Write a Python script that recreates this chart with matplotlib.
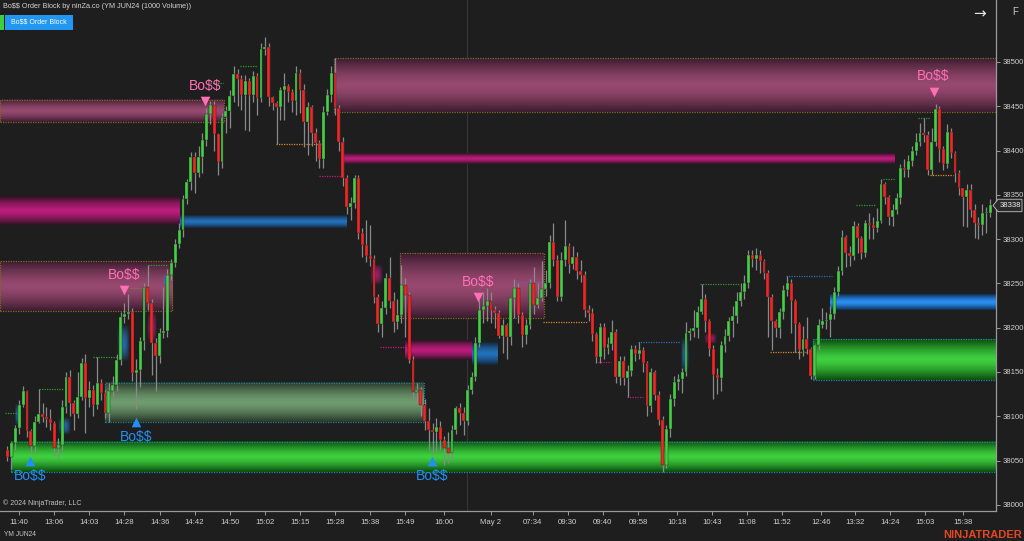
import numpy as np
import matplotlib
matplotlib.use("Agg")
import matplotlib.pyplot as plt
from matplotlib.colors import to_rgb
from matplotlib.patches import Polygon, Rectangle

# ---------------- data ----------------
FIRST_OPEN = 38062
CLOSE = [
    38054, 38070, 38087, 38113, 38128, 38083, 38066, 38094, 38103, 38099,
    38097, 38092, 38064, 38068, 38110, 38144, 38115, 38102, 38122, 38160,
    38121, 38130, 38113, 38137, 38126, 38104, 38129, 38135, 38164, 38212,
    38215, 38218, 38149, 38152, 38185, 38246, 38228, 38183, 38168, 38194,
    38196, 38260, 38273, 38295, 38310, 38345, 38364, 38393, 38375, 38393,
    38412, 38441, 38451, 38419, 38387, 38438, 38445, 38462, 38487, 38481,
    38463, 38479, 38463, 38484, 38459, 38515, 38517, 38460, 38454, 38449,
    38468, 38473, 38466, 38456, 38488, 38468, 38432, 38449, 38420, 38408,
    38391, 38444, 38463, 38488, 38448, 38410, 38369, 38336, 38341, 38369,
    38307, 38293, 38281, 38278, 38235, 38204, 38222, 38256, 38230, 38206,
    38214, 38248, 38237, 38163, 38127, 38130, 38113, 38095, 38085, 38082,
    38088, 38073, 38064, 38059, 38085, 38109, 38104, 38095, 38130, 38144,
    38183, 38220, 38224, 38230, 38220, 38217, 38191, 38203, 38190, 38233,
    38245, 38214, 38192, 38203, 38250, 38226, 38233, 38244, 38250, 38297,
    38276, 38235, 38276, 38292, 38272, 38280, 38264, 38260, 38220, 38217,
    38193, 38167, 38201, 38177, 38182, 38195, 38144, 38162, 38143, 38151,
    38176, 38170, 38175, 38160, 38112, 38150, 38124, 38096, 38045, 38086,
    38120, 38139, 38142, 38150, 38194, 38196, 38200, 38218, 38232, 38207,
    38176, 38147, 38143, 38180, 38191, 38207, 38213, 38230, 38240, 38250,
    38282, 38278, 38282, 38275, 38262, 38235, 38207, 38200, 38218, 38242,
    38251, 38230, 38204, 38175, 38187, 38176, 38145, 38180, 38203, 38207,
    38209, 38215, 38240, 38264, 38302, 38284, 38281, 38315, 38301, 38284,
    38318, 38316, 38313, 38321, 38362, 38347, 38325, 38333, 38346, 38380,
    38378, 38388, 38399, 38410, 38420, 38418, 38378, 38410, 38447, 38402,
    38385, 38421, 38397, 38375, 38358, 38347, 38356, 38333, 38318, 38316,
    38329, 38330, 38338,
]
HIGH = [
    38066, 38072, 38090, 38118, 38134, 38130, 38086, 38100, 38131, 38115,
    38110, 38108, 38095, 38075, 38118, 38150, 38152, 38118, 38150, 38166,
    38170, 38140, 38135, 38167, 38142, 38130, 38138, 38145, 38170, 38218,
    38228, 38238, 38222, 38165, 38190, 38250, 38271, 38232, 38188, 38200,
    38246, 38266, 38278, 38300, 38318, 38350, 38368, 38398, 38398, 38405,
    38420, 38448, 38456, 38456, 38420, 38442, 38450, 38468, 38495, 38492,
    38485, 38485, 38482, 38490, 38488, 38522, 38528, 38522, 38462, 38456,
    38472, 38488, 38475, 38470, 38495, 38492, 38475, 38455, 38452, 38425,
    38412, 38450, 38470, 38495, 38505, 38452, 38415, 38372, 38348, 38372,
    38372, 38312, 38322, 38316, 38282, 38238, 38230, 38262, 38280, 38240,
    38232, 38271, 38256, 38240, 38168, 38138, 38133, 38120, 38109, 38092,
    38098, 38095, 38078, 38082, 38090, 38112, 38115, 38110, 38135, 38150,
    38190, 38231, 38240, 38245, 38240, 38225, 38220, 38210, 38205, 38235,
    38255, 38250, 38218, 38210, 38255, 38269, 38250, 38275, 38265, 38305,
    38318, 38282, 38286, 38322, 38296, 38292, 38286, 38276, 38264, 38226,
    38222, 38195, 38205, 38205, 38190, 38209, 38198, 38168, 38168, 38158,
    38180, 38180, 38184, 38178, 38162, 38155, 38152, 38128, 38100, 38090,
    38125, 38145, 38148, 38155, 38206, 38200, 38220, 38225, 38249, 38238,
    38210, 38180, 38155, 38185, 38198, 38212, 38225, 38240, 38250, 38260,
    38288, 38288, 38290, 38288, 38278, 38265, 38238, 38210, 38222, 38248,
    38258, 38255, 38232, 38206, 38202, 38212, 38178, 38182, 38210, 38222,
    38218, 38225, 38246, 38270, 38310, 38305, 38292, 38320, 38318, 38303,
    38322, 38330, 38325, 38335, 38368, 38364, 38350, 38340, 38352, 38385,
    38390, 38395, 38405, 38420, 38431, 38437, 38422, 38425, 38453, 38450,
    38405, 38430, 38425, 38400, 38378, 38358, 38362, 38362, 38340, 38325,
    38340, 38336, 38345,
]
LOW = [
    38050, 38040, 38062, 38080, 38110, 38076, 38060, 38060, 38092, 38094,
    38088, 38085, 38055, 38053, 38062, 38104, 38100, 38085, 38098, 38118,
    38081, 38110, 38100, 38108, 38118, 38098, 38094, 38122, 38128, 38158,
    38205, 38210, 38140, 38108, 38133, 38175, 38220, 38147, 38128, 38160,
    38188, 38190, 38254, 38268, 38290, 38302, 38340, 38355, 38352, 38370,
    38375, 38405, 38430, 38400, 38372, 38380, 38420, 38426, 38455, 38450,
    38446, 38423, 38422, 38455, 38440, 38455, 38508, 38450, 38446, 38407,
    38434, 38435, 38455, 38444, 38440, 38442, 38404, 38395, 38405, 38388,
    38380, 38380, 38440, 38455, 38440, 38400, 38360, 38328, 38322, 38335,
    38300, 38280, 38274, 38270, 38228, 38195, 38190, 38215, 38222, 38195,
    38198, 38205, 38190, 38160, 38120, 38115, 38100, 38085, 38062, 38056,
    38060, 38062, 38045, 38047, 38051, 38080, 38090, 38079, 38090, 38125,
    38140, 38178, 38205, 38207, 38205, 38200, 38188, 38171, 38165, 38180,
    38211, 38205, 38178, 38182, 38198, 38215, 38222, 38230, 38236, 38245,
    38270, 38230, 38230, 38270, 38262, 38266, 38255, 38252, 38212, 38208,
    38185, 38160, 38160, 38165, 38170, 38175, 38138, 38135, 38135, 38122,
    38145, 38162, 38165, 38150, 38100, 38105, 38118, 38090, 38037, 38042,
    38077, 38112, 38130, 38126, 38145, 38186, 38190, 38188, 38215, 38195,
    38168, 38119, 38125, 38128, 38172, 38185, 38190, 38205, 38225, 38232,
    38245, 38268, 38265, 38262, 38255, 38190, 38175, 38190, 38188, 38210,
    38236, 38194, 38173, 38165, 38168, 38170, 38142, 38142, 38175, 38200,
    38198, 38190, 38210, 38236, 38260, 38269, 38270, 38276, 38284, 38278,
    38280, 38300, 38300, 38308, 38318, 38340, 38316, 38315, 38328, 38340,
    38370, 38370, 38382, 38395, 38405, 38410, 38372, 38372, 38405, 38387,
    38378, 38380, 38392, 38365, 38350, 38315, 38314, 38325, 38301, 38300,
    38305, 38307, 38325,
]

TICK_POS = [3, 12, 21, 30, 39, 48, 57, 66, 75, 84, 93, 102, 112, 124,
            134.7, 143.7, 152.7, 161.7, 171.6, 180.6, 189.6, 198.5, 208.6,
            217.4, 226.3, 235.3, 245.1]
TICK_LBL = ["11:40", "13:06", "14:03", "14:28", "14:36", "14:42", "14:50",
            "15:02", "15:15", "15:28", "15:38", "15:49", "16:00", "May 2",
            "07:34", "09:30", "09:40", "09:58", "10:18", "10:43", "11:08",
            "11:52", "12:46", "13:32", "14:24", "15:03", "15:38"]
PRICE_TICKS = [38000, 38050, 38100, 38150, 38200, 38250, 38300, 38350, 38400, 38450, 38500]

# order blocks: start bar, end bar, low, high, kind
OB_START = [-2, -2, 44.2, -2, 25.0, 0.9, 83.7, 85.7, 100.6, 101.9, 119.1, 210.9, 206.5]
OB_END = [55.5, 44.2, 86.8, 42.2, 106.8, 254, 254, 227.5, 137.5, 119.1, 125.7, 254, 254]
OB_LOW = [38432, 38316, 38313, 38219, 38093, 38037, 38444, 38385, 38211, 38164, 38158, 38220, 38141]
OB_HIGH = [38457, 38348, 38327, 38275, 38138, 38071, 38504, 38397, 38284, 38186, 38183, 38238, 38187]
OB_KIND = ["mauve", "magenta", "blue", "mauve", "sage", "green", "mauve", "magenta",
           "mauve", "magenta", "blue", "blue2", "green"]

# small glow highlights: bar0, bar1, low, high, colour
GLOW_B0 = [1.9, 12.9, 28.0, 35.7, 40.0, 92.9, 172.7, 178.6]
GLOW_B1 = [3.4, 16.0, 31.1, 38.1, 41.1, 96.0, 174.7, 181.9]
GLOW_LO = [38089, 38079, 38161, 38184, 38246, 38248, 38150, 38182]
GLOW_HI = [38114, 38099, 38203, 38218, 38260, 38271, 38189, 38194]
GLOW_C = ["#2a7fd4", "#2a7fd4", "#2a7fd4", "#c0207f", "#2a7fd4", "#c0207f", "#2a7fd4", "#c0207f"]

# swing level dotted lines
SW_B0 = [-0.6, 8.1, 21.9, 36.0, 31.4, 51.9, 59.6, 68.8, 79.9, 95.5, 129.6, 137.3,
         151.4, 161.6, 158.8, 177.5, 199.6, 195.5, 217.5, 224.5, 233.4, 236.5]
SW_B1 = [3.2, 14.2, 28.3, 41.2, 36.5, 55.3, 64.0, 80.9, 85.8, 102.2, 137.3, 148.6,
         154.7, 172.4, 163.0, 187.8, 211.4, 204.7, 222.6, 227.5, 236.5, 242.4]
SW_P = [38104, 38131, 38167, 38271, 38245, 38476, 38495, 38407, 38371, 38178, 38252, 38206,
        38161, 38184, 38122, 38249, 38258, 38173, 38339, 38368, 38437, 38372]
SW_C = ["g", "g", "g", "g", "o", "g", "g", "or", "m", "m", "p", "or",
        "m", "b", "m", "g", "b", "or", "g", "g", "g", "or"]

# Bo$$ signals
SELL_X = [50.6, 29.9, 120.6, 237.5]
SELL_TXT = [38473, 38260, 38252, 38484]
SELL_TRI = [38456, 38242, 38235, 38466]
BUY_X = [5.8, 33.0, 108.8]
BUY_TXT = [38033, 38077, 38032]
BUY_TRI = [38049, 38093, 38049]

LAST_PRICE = 38338

# ---------------- style ----------------
BG = "#1e1e1e"
GREEN = "#44d044"
RED = "#f72424"
WICK = "#8a8a8a"
PINK = "#ff6fb5"
BLUE = "#2190f5"
plt.rcParams["font.family"] = ["Liberation Sans", "DejaVu Sans"]

fig = plt.figure(figsize=(10.24, 5.41), dpi=100, facecolor=BG)
W, Hpx = 1024, 541
ax = fig.add_axes([0, 30 / Hpx, 996 / W, 511 / Hpx], facecolor=BG)


def grad_band(x0, x1, y0, y1, c_mid, c_edge, power=2.0, z=1.0):
    t = np.linspace(-1, 1, 121)
    w = 1 - np.abs(t) ** power
    cm = np.array(to_rgb(c_mid))
    ce = np.array(to_rgb(c_edge))
    rgb = ce[None, :] * (1 - w[:, None]) + cm[None, :] * w[:, None]
    ax.imshow(rgb[:, None, :], extent=[x0, x1, y0, y1], origin="lower",
              aspect="auto", interpolation="bilinear", zorder=z)


def glow(x0, x1, y0, y1, color, alpha=0.75, z=1.6):
    n = 41
    t = np.linspace(-1, 1, n)
    a = np.clip(1 - t ** 2, 0, 1)
    img = np.zeros((n, n, 4))
    img[..., :3] = to_rgb(color)
    img[..., 3] = a[:, None] * a[None, :] * alpha
    ax.imshow(img, extent=[x0, x1, y0, y1], origin="lower", aspect="auto",
              interpolation="bilinear", zorder=z)


KIND_STYLE = {
    "mauve": ("#97496f", "#3a1b2e", 1.5, "#7d6b2a"),
    "magenta": ("#bc1c7c", "#2c1322", 1.4, None),
    "blue": ("#2472bc", "#132436", 1.4, None),
    "blue2": ("#2a90f2", "#0f2c52", 1.4, None),
    "sage": ("#6f9c6f", "#263527", 1.5, "#1f7f94"),
    "green": ("#3fd03f", "#0a4a0e", 1.4, "#1f8aa0"),
}

for x0, x1, lo, hi, kind in zip(OB_START, OB_END, OB_LOW, OB_HIGH, OB_KIND):
    cm, ce, pw, border = KIND_STYLE[kind]
    grad_band(x0, x1, lo, hi, cm, ce, pw, z=1.0)
    if border:
        ax.add_patch(Rectangle((x0, lo), x1 - x0, hi - lo, fill=False,
                               edgecolor=border, lw=0.9, ls=(0, (1, 1)), zorder=1.5))

for b0, b1, lo, hi, c in zip(GLOW_B0, GLOW_B1, GLOW_LO, GLOW_HI, GLOW_C):
    glow(b0, b1, lo, hi, c)

SW_COL = {"g": "#2f9a35", "o": "#7a7a45", "or": "#d98a1a", "m": "#c41a7c",
          "b": "#2a6fb8", "p": "#7060b5"}
for b0, b1, p, c in zip(SW_B0, SW_B1, SW_P, SW_C):
    ax.plot([b0, b1], [p, p], color=SW_COL[c], lw=0.9, ls=(0, (1, 1)), zorder=2)

# session break
ax.axvline(117.8, color="#353535", lw=0.8, zorder=0.5)

# ---------------- candles ----------------
close = np.array(CLOSE, dtype=float)
opn = np.concatenate([[FIRST_OPEN], close[:-1]])
high = np.maximum(np.array(HIGH, dtype=float), np.maximum(opn, close))
low = np.minimum(np.array(LOW, dtype=float), np.minimum(opn, close))
x = np.arange(len(close))
up = close >= opn
ax.vlines(x, low, high, color=WICK, lw=0.9, zorder=3)
body_lo = np.minimum(opn, close)
body_h = np.maximum(np.abs(close - opn), 1.5)
ax.bar(x, body_h, bottom=body_lo, width=0.74,
       color=np.where(up, GREEN, RED), edgecolor="#1a1a1a", linewidth=0.25, zorder=4)

# ---------------- signals ----------------
ax.scatter(SELL_X, SELL_TRI, marker="v", s=48, color=PINK, zorder=6, linewidths=0)
ax.scatter(BUY_X, BUY_TRI, marker="^", s=48, color=BLUE, zorder=6, linewidths=0)
for bx, ty in zip(SELL_X, SELL_TXT):
    ax.text(bx, ty, "Bo$$", color=PINK, fontsize=10, ha="center", va="center",
            zorder=6, parse_math=False)
for bx, ty in zip(BUY_X, BUY_TXT):
    ax.text(bx, ty, "Bo$$", color=BLUE, fontsize=10, ha="center", va="center",
            zorder=6, parse_math=False)

# ---------------- axes ----------------
ax.set_xlim(-1.92, 253.5)
ax.set_ylim(37993, 38570)
for s in ["left", "top"]:
    ax.spines[s].set_visible(False)
for s in ["right", "bottom"]:
    ax.spines[s].set_color("#9a9a9a")
    ax.spines[s].set_linewidth(0.9)
ax.yaxis.tick_right()
ax.set_yticks(PRICE_TICKS)
ax.set_yticklabels([str(p) for p in PRICE_TICKS])
ax.set_xticks(TICK_POS)
ax.set_xticklabels(TICK_LBL)
ax.tick_params(axis="y", colors="#9a9a9a", labelcolor="#cfcfcf", labelsize=5.6,
               length=3, width=0.7, pad=2)
ax.tick_params(axis="x", colors="#9a9a9a", labelcolor="#cfcfcf", labelsize=5.6,
               length=3, width=0.7, pad=2.5)

# last price marker
tr = ax.get_yaxis_transform()
pts = [(993 / 996, LAST_PRICE), (998 / 996, LAST_PRICE + 7), (1022 / 996, LAST_PRICE + 7),
       (1022 / 996, LAST_PRICE - 7), (998 / 996, LAST_PRICE - 7)]
ax.add_patch(Polygon(pts, closed=True, transform=tr, clip_on=False,
                     facecolor="#2b2b2b", edgecolor="#b0b0b0", lw=0.7, zorder=10))
ax.text(1010 / 996, LAST_PRICE, str(LAST_PRICE), transform=tr, clip_on=False,
        ha="center", va="center", fontsize=5.6, color="#f0f0f0", zorder=11)

# ---------------- figure texts ----------------
def fx(px):
    return px / W


def fy(py):
    return 1 - py / Hpx


fig.text(fx(3), fy(7), "Bo$$ Order Block by ninZa.co (YM JUN24 (1000 Volume))",
         color="#d2d2d2", fontsize=5.2, va="center", ha="left", parse_math=False)
fig.patches.append(Rectangle((fx(0), fy(30)), fx(4), 15 / Hpx, transform=fig.transFigure,
                             facecolor="#3ecf3e", edgecolor="none", zorder=5))
fig.patches.append(Rectangle((fx(5), fy(30)), fx(68), 15 / Hpx, transform=fig.transFigure,
                             facecolor="#2196f3", edgecolor="none", zorder=5))
fig.text(fx(39), fy(22.5), "Bo$$ Order Block", color="white", fontsize=5.0,
         ha="center", va="center", parse_math=False, zorder=6)
fig.text(fx(980), fy(14), "\u2192", color="#e6e6e6", fontsize=11, ha="center", va="center",
         family="DejaVu Sans")
fig.text(fx(1015), fy(12), "F", color="#c8c8c8", fontsize=7, ha="center", va="center")
fig.text(fx(3), fy(503), "\u00a9 2024 NinjaTrader, LLC", color="#c4c4c4", fontsize=5.0,
         ha="left", va="center")
fig.text(fx(4), fy(534), "YM JUN24", color="#c4c4c4", fontsize=4.8, ha="left", va="center")
fig.text(fx(1022), fy(535), "NINJATRADER", color="#e8461e", fontsize=8, fontweight="bold",
         ha="right", va="center")

fig.savefig("out.png", dpi=100, facecolor=BG)
